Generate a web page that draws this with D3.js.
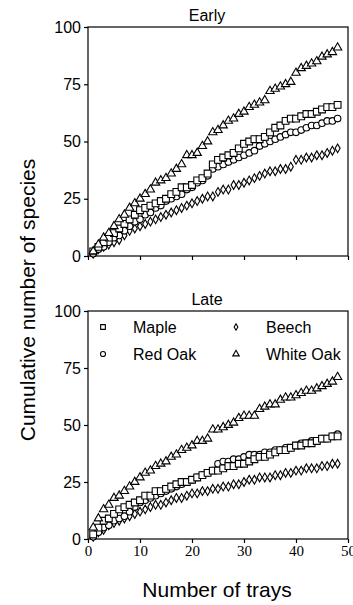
<!DOCTYPE html>
<html><head><meta charset="utf-8">
<script src="https://cdn.jsdelivr.net/npm/d3@7"></script>
<style>body{margin:0;background:#fff}svg{display:block}</style>
</head><body><svg id="c" width="353" height="605"></svg>
<script>
const trays = d3.range(1, 49);
const xTicks = [0, 10, 20, 30, 40, 50];
const yTicks = [0, 25, 50, 75, 100];
const panelTitles = ["Early", "Late"];
const seriesNames = ["Maple", "Red Oak", "Beech", "White Oak"];

const earlyMaple = [2,4,6,8,10,12,14,16,18,20,21,22,23,24,25,27,28,30,30,31,33,34,36,40,42,43,44,45,47,49,50,51,51,52,54,56,57,59,60,60,61,62,62,63,64,65,65,66];
const earlyRedOak = [1,3,4,6,8,9,11,13,15,16,18,19,21,22,24,25,26,27,29,30,32,33,35,38,39,40,41,42,43,44,45,46,48,49,50,51,52,53,54,54,55,56,57,57,58,59,59,60];
const earlyBeech = [1,3,4,5,6,7,9,11,12,13,14,15,16,17,18,19,20,21,22,23,24,25,26,26,28,29,29,31,31,32,33,34,35,36,37,37,38,38,39,42,42,43,43,44,44,45,46,47];
const earlyWhiteOak = [2,5,8,10,13,16,18,21,23,25,27,29,32,33,34,36,38,40,44,44,45,48,50,54,55,57,59,60,62,63,65,66,67,68,72,73,74,75,76,80,82,83,84,85,87,88,89,91];

const lateMaple = [2,5,8,9,11,13,14,15,16,17,19,19,21,21,22,23,24,25,25,26,27,28,29,30,30,31,32,32,33,33,34,35,36,36,37,38,39,39,40,41,41,42,42,43,44,44,45,45];
const lateRedOak = [1,3,5,6,8,9,10,12,14,16,17,18,19,20,21,22,23,24,25,26,27,28,29,30,33,34,34,35,35,36,37,37,37,38,38,39,39,40,40,41,42,42,43,43,44,44,45,46];
const lateBeech = [1,3,4,6,7,8,9,10,11,12,13,14,15,15,16,17,18,18,19,20,20,21,21,22,22,23,23,24,24,25,26,26,27,27,27,28,28,29,29,30,30,31,31,31,32,32,33,33];
const lateWhiteOak = [5,9,13,15,18,19,21,23,25,27,29,30,32,33,34,36,37,39,40,41,43,43,44,48,48,49,50,51,53,54,54,54,57,58,59,59,61,62,62,63,64,65,65,66,67,68,69,71];

const panels = [
  {title: panelTitles[0], top: 27, bottom: 256, labels: false, legend: false,
   series: [earlyMaple, earlyRedOak, earlyBeech, earlyWhiteOak]},
  {title: panelTitles[1], top: 311, bottom: 539, labels: true, legend: true,
   series: [lateMaple, lateRedOak, lateBeech, lateWhiteOak]}
];

const symTypes = [d3.symbolSquare, d3.symbolCircle, d3.symbolDiamond, d3.symbolTriangle];
const symSizes = [46, 34, 22, 30];
const legSizes = [22, 20, 12, 18];
const drawOrder = [2, 1, 0, 3];

const svg = d3.select("#c");
const left = 88, right = 348;
const x = d3.scaleLinear().domain([0, 50]).range([left, right]);
const sans = "'Liberation Sans', Arial, Helvetica, sans-serif";
const serif = "'Liberation Serif', 'Times New Roman', serif";

panels.forEach(p => {
  const y = d3.scaleLinear().domain([0, 100]).range([p.bottom, p.top]);
  const g = svg.append("g");

  const ya = g.append("g").attr("transform", `translate(${left},0)`)
    .call(d3.axisLeft(y).tickValues(yTicks).tickSize(4).tickPadding(3));
  ya.select(".domain").remove();
  ya.selectAll("line").attr("stroke", "#000").attr("stroke-width", 1.2);
  ya.selectAll("text").attr("font-family", sans).attr("font-size", 16).attr("fill", "#000");

  const xa = g.append("g").attr("transform", `translate(0,${p.bottom})`)
    .call(d3.axisBottom(x).tickValues(xTicks).tickSize(4).tickPadding(2));
  xa.select(".domain").remove();
  xa.selectAll("line").attr("stroke", "#000").attr("stroke-width", 1.2);
  if (p.labels) {
    xa.selectAll("text").attr("font-family", serif).attr("font-size", 15).attr("fill", "#000");
  } else {
    xa.selectAll("text").remove();
  }

  g.append("rect").attr("x", left).attr("y", p.top)
    .attr("width", right - left).attr("height", p.bottom - p.top)
    .attr("fill", "none").attr("stroke", "#000").attr("stroke-width", 1.2);

  g.append("text").attr("x", 207).attr("y", p.top - 6)
    .attr("text-anchor", "middle").attr("font-family", sans).attr("font-size", 16)
    .text(p.title);

  drawOrder.forEach(si => {
    const sym = d3.symbol().type(symTypes[si]).size(symSizes[si]);
    g.append("g").selectAll("path").data(p.series[si]).join("path")
      .attr("d", sym)
      .attr("transform", (d, i) => `translate(${x(trays[i])},${y(d)})`)
      .attr("fill", "#fff").attr("stroke", "#000").attr("stroke-width", 1.1);
  });

  if (p.legend) {
    const lg = g.append("g");
    const pos = [[103, 327], [103, 354], [236, 327], [236, 354]];
    seriesNames.forEach((n, si) => {
      lg.append("path")
        .attr("d", d3.symbol().type(symTypes[si]).size(legSizes[si])())
        .attr("transform", `translate(${pos[si][0]},${pos[si][1]})`)
        .attr("fill", "#fff").attr("stroke", "#000").attr("stroke-width", 1.1);
      lg.append("text").attr("x", pos[si][0] + 30).attr("y", pos[si][1])
        .attr("dy", "0.35em").attr("font-family", sans).attr("font-size", 16)
        .text(n);
    });
  }
});

svg.append("text").attr("transform", "translate(35,300) rotate(-90)")
  .attr("text-anchor", "middle").attr("font-family", sans).attr("font-size", 21)
  .text("Cumulative number of species");
svg.append("text").attr("x", 217).attr("y", 597)
  .attr("text-anchor", "middle").attr("font-family", sans).attr("font-size", 21)
  .text("Number of trays");
</script></body></html>
